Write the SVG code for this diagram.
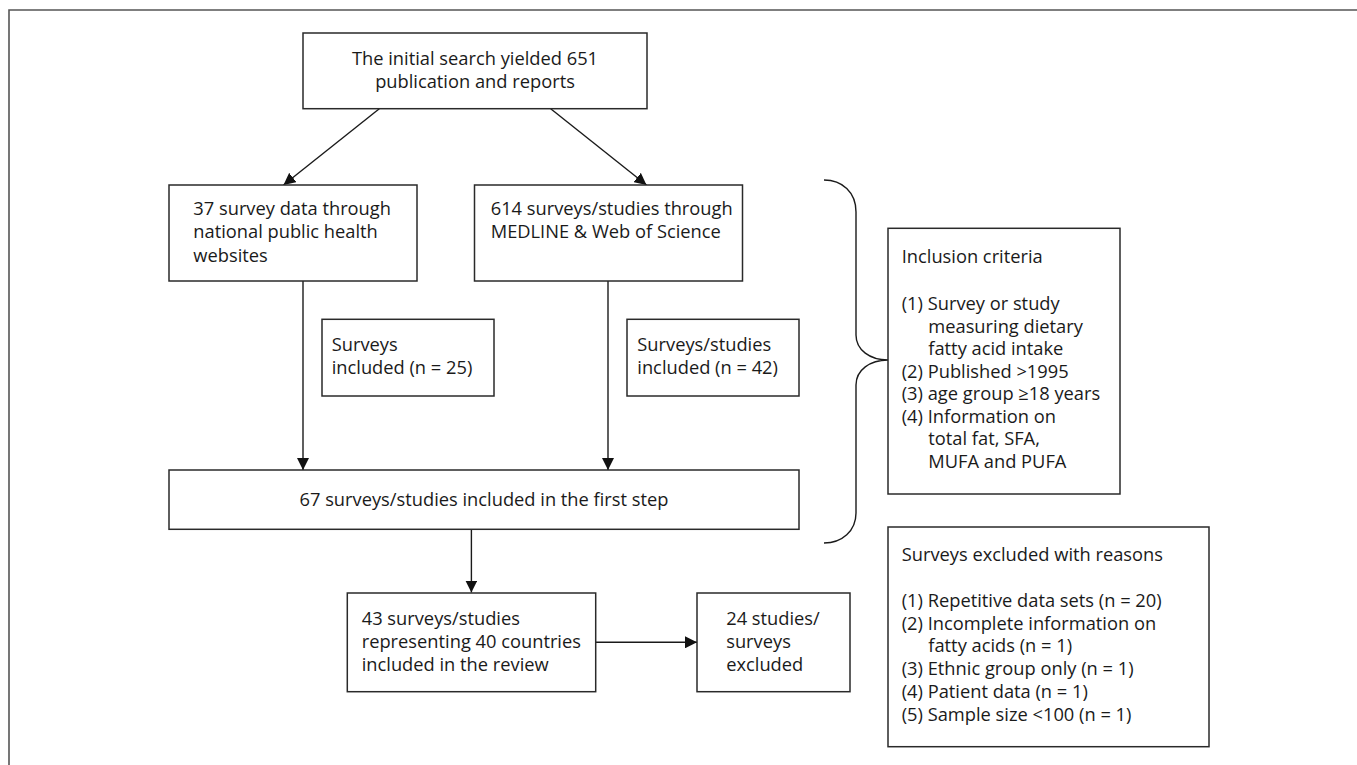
<svg xmlns="http://www.w3.org/2000/svg" width="1357" height="765" viewBox="0 0 1357 765">
<style>
.box{fill:#fff;stroke:#2a2a2a;stroke-width:1.5}
.t{font-family:"Open Sans","Noto Sans","DejaVu Sans",sans-serif;font-size:18.3px;fill:#1a1a1a}
.c{text-anchor:middle}
.ln{fill:none;stroke:#1a1a1a;stroke-width:1.4}
.frame{fill:none;stroke:#555;stroke-width:1.6}
</style>
<defs>
<marker id="ah" viewBox="0 0 12 12" refX="12" refY="6" markerWidth="12" markerHeight="12" markerUnits="userSpaceOnUse" orient="auto">
<path d="M0,0 L12,6 L0,12 z" fill="#111"/>
</marker>
</defs>
<rect width="1357" height="765" fill="#fff"/>
<path class="frame" d="M9,766 L9,10 L1358,10"/>

<g id="connectors">
<line class="ln" x1="379.3" y1="108.7" x2="283.5" y2="185" marker-end="url(#ah)"/>
<line class="ln" x1="550.7" y1="108.7" x2="646.5" y2="185" marker-end="url(#ah)"/>
<line class="ln" x1="303" y1="281" x2="303" y2="470" marker-end="url(#ah)"/>
<line class="ln" x1="608" y1="281" x2="608" y2="470" marker-end="url(#ah)"/>
<line class="ln" x1="471.4" y1="529.3" x2="471.4" y2="592.5" marker-end="url(#ah)"/>
<line class="ln" x1="595.7" y1="642.3" x2="697" y2="642.3" marker-end="url(#ah)"/>
<path class="ln" d="M824,180 C842,180 856,192 856,212 L856,335 C856,350 870,360 888,360 C870,360 856,370 856,385 L856,513 C856,531 842,543 824,543"/>
</g>

<g id="n-initial">
<rect class="box" x="303" y="33" width="344" height="75.7"/>
<text class="t c" x="475" y="65">The initial search yielded 651</text>
<text class="t c" x="475" y="88.3">publication and reports</text>
</g>

<g id="n-national">
<rect class="box" x="169" y="185" width="248" height="96"/>
<text class="t" x="193.3" y="215">37 survey data through</text>
<text class="t" x="193.3" y="238.3">national public health</text>
<text class="t" x="193.3" y="261.7">websites</text>
</g>

<g id="n-medline">
<rect class="box" x="474.5" y="185" width="268" height="96"/>
<text class="t" x="490.7" y="215">614 surveys/studies through</text>
<text class="t" x="490.7" y="238.3">MEDLINE &amp; Web of Science</text>
</g>

<g id="n-inc25">
<rect class="box" x="322" y="319.3" width="172" height="76.7"/>
<text class="t" x="331.7" y="351">Surveys</text>
<text class="t" x="331.7" y="374.3">included (n = 25)</text>
</g>

<g id="n-inc42">
<rect class="box" x="627" y="319.3" width="172" height="76.7"/>
<text class="t" x="637.3" y="351">Surveys/studies</text>
<text class="t" x="637.3" y="374.3">included (n = 42)</text>
</g>

<g id="n-first">
<rect class="box" x="169" y="470" width="630" height="59.3"/>
<text class="t c" x="484" y="505.7">67 surveys/studies included in the first step</text>
</g>

<g id="n-review">
<rect class="box" x="347.3" y="593" width="248.4" height="98.7"/>
<text class="t" x="361.7" y="625">43 surveys/studies</text>
<text class="t" x="361.7" y="648.3">representing 40 countries</text>
<text class="t" x="361.7" y="671">included in the review</text>
</g>

<g id="n-excl24">
<rect class="box" x="697" y="593" width="153" height="98.7"/>
<text class="t" x="726.2" y="625">24 studies/</text>
<text class="t" x="726.2" y="648.3">surveys</text>
<text class="t" x="726.2" y="671">excluded</text>
</g>

<g id="n-inclusion">
<rect class="box" x="888" y="228.3" width="232" height="265.7"/>
<text class="t" x="901.7" y="263.3">Inclusion criteria</text>
<text class="t" x="901.7" y="310">(1) Survey or study</text>
<text class="t" x="928.3" y="332.7">measuring dietary</text>
<text class="t" x="928.3" y="355">fatty acid intake</text>
<text class="t" x="901.7" y="377.7">(2) Published &gt;1995</text>
<text class="t" x="901.7" y="400">(3) age group ≥18 years</text>
<text class="t" x="901.7" y="422.7">(4) Information on</text>
<text class="t" x="928.3" y="445">total fat, SFA,</text>
<text class="t" x="928.3" y="467.7">MUFA and PUFA</text>
</g>

<g id="n-exclusion">
<rect class="box" x="888" y="527" width="321" height="219.7"/>
<text class="t" x="901.7" y="560.7">Surveys excluded with reasons</text>
<text class="t" x="901.7" y="606.7">(1) Repetitive data sets (n = 20)</text>
<text class="t" x="901.7" y="630">(2) Incomplete information on</text>
<text class="t" x="928.3" y="652.3">fatty acids (n = 1)</text>
<text class="t" x="901.7" y="675">(3) Ethnic group only (n = 1)</text>
<text class="t" x="901.7" y="698.3">(4) Patient data (n = 1)</text>
<text class="t" x="901.7" y="720.7">(5) Sample size &lt;100 (n = 1)</text>
</g>
</svg>
